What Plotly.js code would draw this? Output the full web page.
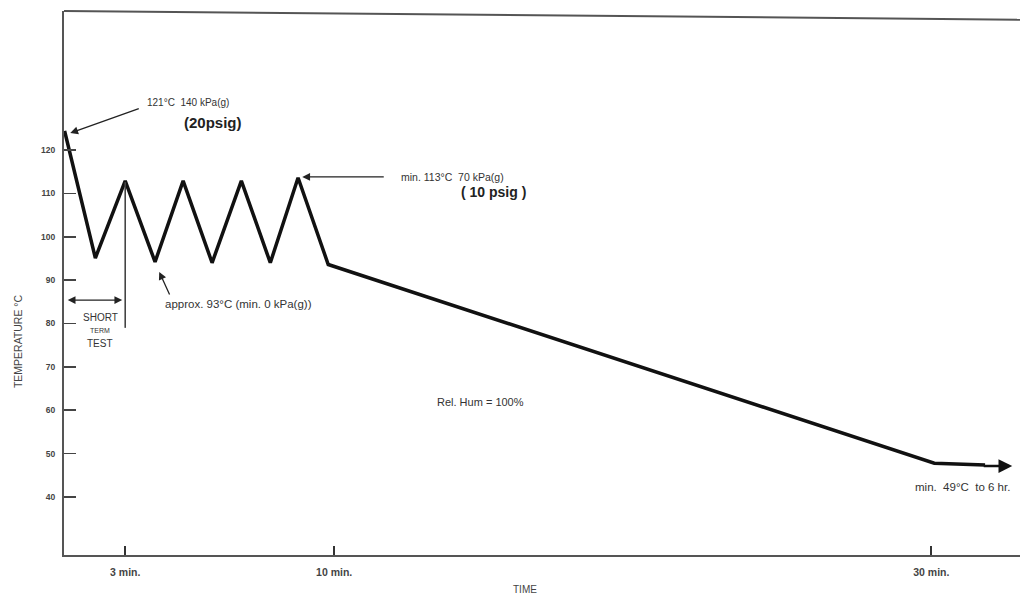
<!DOCTYPE html>
<html>
<head>
<meta charset="utf-8">
<script src="https://cdn.plot.ly/plotly-3.0.1.min.js"></script>
<style>html,body{margin:0;padding:0;background:#fff;}#chart{width:1024px;height:599px;}</style>
</head>
<body>
<div id="chart"></div>
<script>
// Temperature profile (time in minutes, temperature in °C)
const timeMin = [0.97, 2.0, 3.0, 4.0, 4.94, 5.91, 6.89, 7.86, 8.79, 9.8, 30.1, 31.8];
const tempC   = [124.4, 95.1, 112.9, 94.2, 112.9, 94.0, 112.9, 94.0, 113.6, 93.6, 47.8, 47.4];

const yTickVals = [40, 50, 60, 70, 80, 90, 100, 110, 120];
const xTickVals = [3, 10, 30];
const xTickText = ['3 min.', '10 min.', '30 min.'];

const ink = '#111';
const grey = '#555';
const fontFam = 'Liberation Sans, Arial, sans-serif';

const trace = {
  x: timeMin, y: tempC, type: 'scatter', mode: 'lines',
  line: {color: ink, width: 3.5}, hoverinfo: 'skip'
};

function txt(x, y, text, size, extra) {
  return Object.assign({x: x, y: y, xref: 'x', yref: 'y', text: text, showarrow: false,
    font: {family: fontFam, size: size, color: '#333'}}, extra || {});
}
function arrow(x, y, ax, ay, extra) {
  return Object.assign({x: x, y: y, xref: 'x', yref: 'y', text: '', showarrow: true,
    ax: ax, ay: ay, arrowcolor: '#222', arrowwidth: 1.3, arrowhead: 2, arrowsize: 1.2, standoff: 0}, extra || {});
}

const annotations = [
  arrow(1.16, 123.9, 70, -25),
  txt(5.11, 130.9, '121°C  140 kPa(g)', 10),
  txt(5.95, 126.4, '(20psig)', 15, {font: {family: fontFam, size: 15, color: '#222', weight: 'bold'}}),
  arrow(8.93, 113.8, 83, 0),
  txt(13.95, 113.8, 'min. 113°C  70 kPa(g)', 10.5),
  txt(15.33, 110.3, '( 10 psig )', 14, {font: {family: fontFam, size: 14, color: '#222', weight: 'bold'}}),
  arrow(4.14, 91.9, 11, 24),
  txt(4.27, 84.5, 'approx. 93°C (min. 0 kPa(g))', 11.5, {xanchor: 'left'}),
  arrow(2.9, 85.4, -56, 0, {arrowside: 'end+start'}),
  txt(2.16, 81.3, 'SHORT', 10),
  txt(2.16, 78.3, 'TERM', 7),
  txt(2.16, 75.5, 'TEST', 10),
  txt(14.89, 61.9, 'Rel. Hum = 100%', 11),
  txt(31.03, 42.3, 'min.  49°C  to 6 hr.', 11.5),
  arrow(32.71, 47.15, -30, 0, {arrowwidth: 2.5, arrowhead: 2, arrowsize: 1.1, arrowcolor: ink}),
  // axis titles
  {xref: 'paper', yref: 'paper', x: (525 - 64) / 956, y: -0.064, yanchor: 'middle', xanchor: 'center',
   text: 'TIME', showarrow: false, font: {family: fontFam, size: 10, color: '#444'}},
  {xref: 'paper', yref: 'paper', x: -0.048, xanchor: 'center', y: (555 - 341) / 544, yanchor: 'middle',
   textangle: -90, text: 'TEMPERATURE °C', showarrow: false, font: {family: fontFam, size: 10.5, color: '#444'}}
];

const shapes = [
  // top border, slightly slanted in the scan
  {type: 'line', xref: 'paper', yref: 'paper', x0: 0, y0: 1, x1: 1, y1: 0.984,
   line: {color: grey, width: 2}},
  // short term test marker at 3 min
  {type: 'line', xref: 'x', yref: 'y', x0: 3, y0: 112.6, x1: 3, y1: 79.0,
   line: {color: '#444', width: 1.6}}
];

const layout = {
  width: 1024, height: 599,
  margin: {l: 64, r: 4, t: 11, b: 44},
  paper_bgcolor: '#fff', plot_bgcolor: '#fff',
  showlegend: false,
  xaxis: {
    range: [0.95, 32.97], showgrid: false, zeroline: false,
    showline: true, linecolor: grey, linewidth: 2,
    tickmode: 'array', tickvals: xTickVals, ticktext: xTickText,
    ticks: 'inside', ticklen: 9, tickwidth: 2, tickcolor: '#333',
    ticklabelstandoff: 6,
    tickfont: {family: fontFam, size: 10.5, color: '#444', weight: 'bold'}
  },
  yaxis: {
    range: [26.63, 152.05], showgrid: false, zeroline: false,
    showline: true, linecolor: grey, linewidth: 2,
    tickmode: 'array', tickvals: yTickVals,
    ticks: 'inside', ticklen: 12, tickwidth: 1.6, tickcolor: '#444',
    ticklabelstandoff: 5,
    tickfont: {family: fontFam, size: 8.5, color: '#444', weight: 'bold'}
  },
  annotations: annotations,
  shapes: shapes
};

Plotly.newPlot('chart', [trace], layout, {staticPlot: true, displayModeBar: false});
</script>
</body>
</html>
